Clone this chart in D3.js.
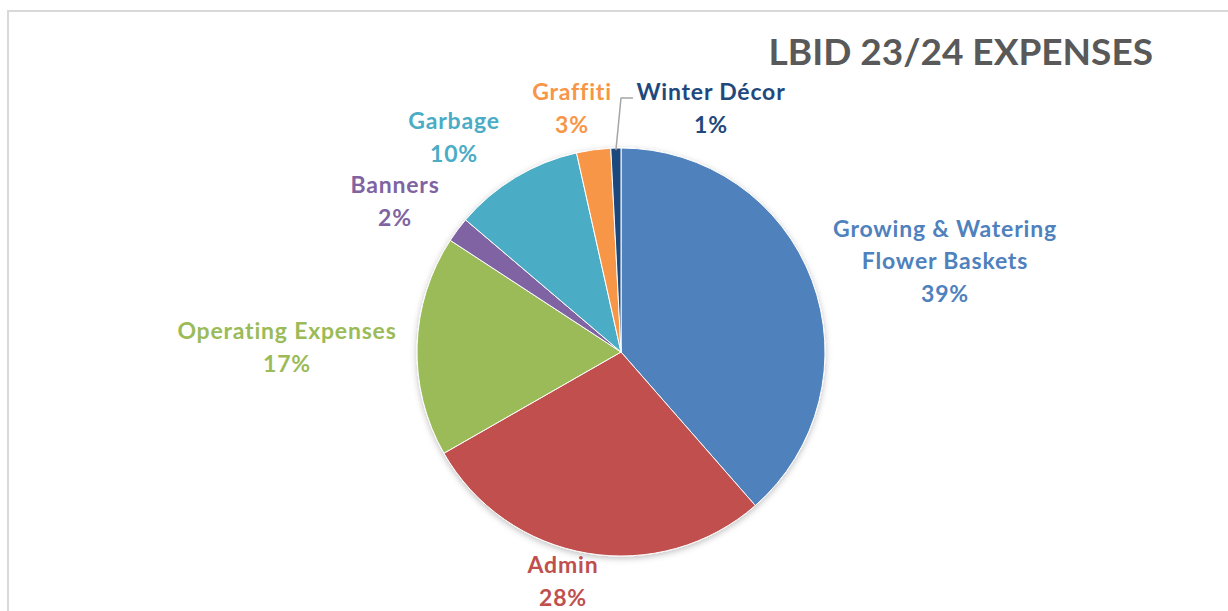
<!DOCTYPE html>
<html>
<head>
<meta charset="utf-8">
<script src="https://cdn.jsdelivr.net/npm/d3@7"></script>
<style>
  body { margin: 0; background: #fff; }
  svg { display: block; }
</style>
</head>
<body>
<svg width="1228" height="611"></svg>
<script>
// Slices in drawing order, clockwise from 12 o'clock
var categories = ["Growing & Watering Flower Baskets", "Admin", "Operating Expenses", "Banners", "Garbage", "Graffiti", "Winter Décor"];
var labelLines = [["Growing & Watering", "Flower Baskets"], ["Admin"], ["Operating Expenses"], ["Banners"], ["Garbage"], ["Graffiti"], ["Winter Décor"]];
var values = [38.6, 28.2, 17.5, 2.0, 10.3, 2.7, 0.8];
var colors = ["#4F81BD", "#C0504D", "#9BBB59", "#8064A2", "#4BACC6", "#F79646", "#1F497D"];
var title = "LBID 23/24 EXPENSES";

// label anchor offsets from the pie centre (layout only)
var labelOffsets = [[324, -91], [-58, 229], [-334, -5], [-226, -151], [-167, -215], [-49, -244], [90, -244]];

var svg = d3.select("svg"),
    cx = 621, cy = 352, radius = 204;

// light frame around the chart area
svg.append("path")
    .attr("d", "M8,611 V11 H1228")
    .attr("fill", "none")
    .attr("stroke", "#d9d9d9")
    .attr("stroke-width", 2);

var defs = svg.append("defs");
defs.append("filter")
    .attr("id", "shadow")
    .attr("x", "-10%").attr("y", "-10%")
    .attr("width", "120%").attr("height", "120%")
    .append("feDropShadow")
    .attr("dx", 0).attr("dy", 2)
    .attr("stdDeviation", 3)
    .attr("flood-color", "#000")
    .attr("flood-opacity", 0.25);

var total = d3.sum(values);
var data = categories.map(function(c, i) {
    return { name: c, value: values[i], lines: labelLines[i], color: colors[i], off: labelOffsets[i] };
});

var pie = d3.pie()
    .sort(null)
    .value(function(d) { return d.value; });

var arc = d3.arc().innerRadius(0).outerRadius(radius);

var g = svg.append("g")
    .attr("transform", "translate(" + cx + "," + cy + ")");

var arcs = pie(data);

g.append("g")
    .attr("filter", "url(#shadow)")
    .selectAll("path")
    .data(arcs)
    .enter().append("path")
    .attr("d", arc)
    .attr("fill", function(d) { return d.data.color; })
    .attr("stroke", "#fff")
    .attr("stroke-width", 1);

// leader line for the tiny Winter Décor slice
var wd = arcs[6];
var mid = (wd.startAngle + wd.endAngle) / 2;
var p0 = [Math.sin(mid) * (radius - 2), -Math.cos(mid) * (radius - 2)];
g.append("polyline")
    .attr("points", [p0, [0, -254], [12, -254]].map(function(p) { return p.join(","); }).join(" "))
    .attr("fill", "none")
    .attr("stroke", "#a6a6a6")
    .attr("stroke-width", 1.5);

// labels
var lineH = 32.5;
var labels = g.selectAll(".label")
    .data(arcs)
    .enter().append("text")
    .attr("class", "label")
    .attr("text-anchor", "middle")
    .attr("font-family", "Lato, 'Open Sans', sans-serif")
    .attr("font-weight", "bold")
    .attr("font-size", 23)
    .attr("letter-spacing", 0.8)
    .attr("fill", function(d) { return d.data.color; });

labels.each(function(d) {
    var lines = d.data.lines.concat([Math.round(d.data.value / total * 100) + "%"]);
    var n = lines.length;
    var t = d3.select(this);
    lines.forEach(function(l, i) {
        t.append("tspan")
            .attr("x", d.data.off[0])
            .attr("y", d.data.off[1] + (i - (n - 1) / 2) * lineH)
            .attr("dy", "0.36em")
            .text(l);
    });
});

// title
svg.append("text")
    .attr("x", 1153)
    .attr("y", 65)
    .attr("text-anchor", "end")
    .attr("font-family", "Lato, 'Open Sans', sans-serif")
    .attr("font-weight", "bold")
    .attr("font-size", 37)
    .attr("fill", "#595959")
    .text(title);
</script>
</body>
</html>
